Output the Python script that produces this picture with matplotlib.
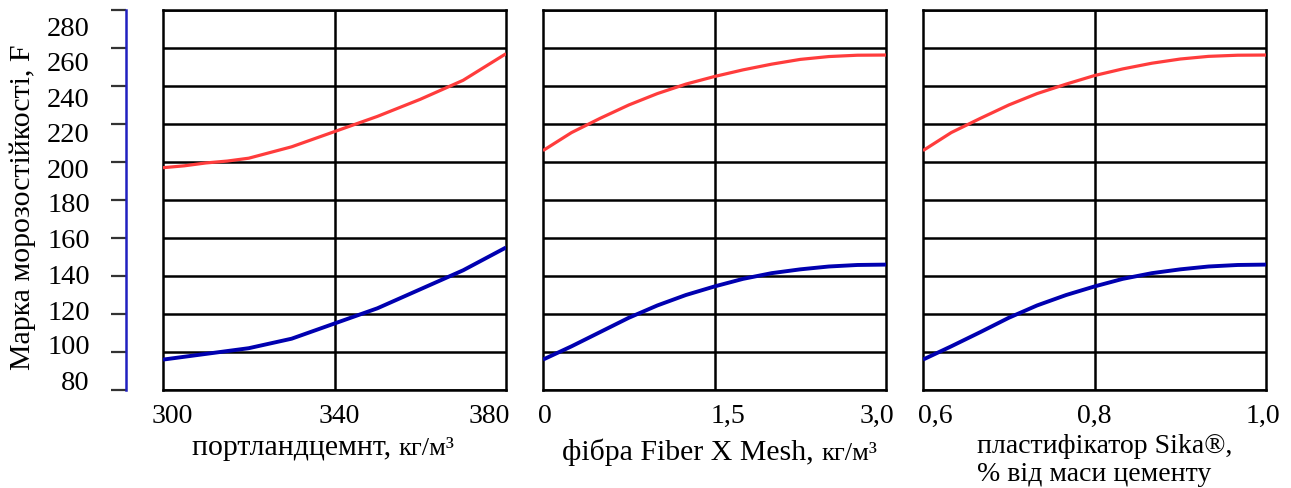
import matplotlib.pyplot as plt
from matplotlib.transforms import ScaledTranslation

plt.rcParams['font.family'] = ['Liberation Serif', 'DejaVu Serif']

# panel 1: portland cement, kg/m3
cement_x = [300, 305, 310, 315, 320, 325, 330, 335, 340,
            345, 350, 355, 360, 365, 370, 375, 380]
cement_red = [197, 198, 199.5, 200.5, 202, 205, 208, 212, 216,
              220, 224, 228.5, 233, 238, 243, 250, 257]
cement_blue = [96, 97.5, 99, 100.5, 102, 104.5, 107, 111, 115,
               119, 123, 128, 133, 138, 143, 149, 155]

# panel 2: fibre Fiber X Mesh, kg/m3
fiber_x = [0, 0.25, 0.5, 0.75, 1.0, 1.25, 1.5, 1.75, 2.0, 2.25, 2.5, 2.75, 3.0]
fiber_red = [206, 215.5, 223, 230, 236, 241, 245, 248.5, 251.5, 254, 255.5, 256.2, 256.3]
fiber_blue = [96, 103, 110.5, 118, 124.5, 130, 134.5, 138.5, 141.5, 143.5, 145, 145.8, 146]

# panel 3: plasticizer Sika, % of cement mass
sika_x = [0.6, 0.633, 0.667, 0.7, 0.733, 0.767, 0.8, 0.833, 0.867, 0.9, 0.933, 0.967, 1.0]
sika_red = [206, 215.5, 223, 230, 236, 241, 245.5, 249, 252, 254.2, 255.6, 256.2, 256.3]
sika_blue = [96, 103, 110.5, 118, 124.5, 130, 134.5, 138.5, 141.5, 143.5, 145, 145.8, 146]

y_ticks = [80, 100, 120, 140, 160, 180, 200, 220, 240, 260, 280]

panels = [
    (cement_x, cement_red, cement_blue, [300, 340, 380], ["300", "340", "380"], [9, 5, -17]),
    (fiber_x, fiber_red, fiber_blue, [0, 1.5, 3.0], ["0", "1,5", "3,0"], [2, 13, -9]),
    (sika_x, sika_red, sika_blue, [0.6, 0.8, 1.0], ["0,6", "0,8", "1,0"], [12, 0, -3]),
]
# the scale labels sit a bit off their ticks in the original (px, down +)
y_label_shift = [-10, -7, -4, -1, 0, 2, 6, 9, 12, 14, 17]

W, H = 1291, 488
fig = plt.figure(figsize=(W / 100, H / 100), dpi=100)
px = fig.dpi_scale_trans

lefts = [163, 543, 923]
axes = []
for left, (xs, red, blue, xt, xtl, shifts) in zip(lefts, panels):
    ax = fig.add_axes([left / W, (H - 390) / H, 343 / W, 380 / H])
    ax.plot(xs, red, color="#ff3c3c", lw=2.3, zorder=3, solid_capstyle="butt")
    ax.plot(xs, blue, color="#0000b0", lw=2.8, zorder=3, solid_capstyle="butt")
    ax.set_xlim(xt[0], xt[-1])
    ax.set_ylim(80, 280)
    ax.set_yticks(y_ticks)
    ax.set_yticklabels([])
    ax.set_xticks(xt)
    ax.set_xticklabels(xtl, fontsize=20)
    ax.tick_params(length=0, pad=10)
    for lab, dx in zip(ax.get_xticklabels(), shifts):
        lab.set_transform(lab.get_transform() + ScaledTranslation(dx / 100, 0, px))
    ax.grid(True, color="black", lw=1.8)
    ax.set_axisbelow(True)
    ax.xaxis.grid(False)
    ax.axvline(xt[1], color="black", lw=1.8, zorder=1)
    for s in ax.spines.values():
        s.set_linewidth(1.8)
    axes.append(ax)

# x axis titles, unit in smaller type on the same baseline
fig.canvas.draw()
rend = fig.canvas.get_renderer()
for ax, main, unit, x0, y0 in [(axes[0], "портландцемнт, ", "кг/м³", 0.085, -0.171),
                               (axes[1], "фібра Fiber X Mesh, ", "кг/м³", 0.055, -0.184)]:
    t = ax.text(x0, y0, main, transform=ax.transAxes, fontsize=21.5,
                ha="left", va="baseline")
    bb = t.get_window_extent(rend)
    xe = ax.transAxes.inverted().transform((bb.x1, bb.y0))[0]
    ax.text(xe, y0, unit, transform=ax.transAxes, fontsize=19,
            ha="left", va="baseline")
axes[2].text(0.157, -0.166, "пластифікатор Sika®,", transform=axes[2].transAxes,
             fontsize=20, ha="left", va="baseline")
axes[2].text(0.157, -0.2395, "% від маси цементу", transform=axes[2].transAxes,
             fontsize=20, ha="left", va="baseline")

# separate left scale
sc = fig.add_axes([126 / W, (H - 390) / H, 0.0001, 380 / H])
sc.set_ylim(80, 280)
sc.set_yticks(y_ticks)
sc.set_yticklabels([str(v) for v in y_ticks], fontsize=20.5)
sc.tick_params(axis="y", direction="out", length=11, width=1.6,
               color="#333333", pad=15)
for lab, dy in zip(sc.get_yticklabels(), y_label_shift):
    lab.set_transform(lab.get_transform() + ScaledTranslation(0, -dy / 100, px))
sc.set_xticks([])
for k in ("top", "right", "bottom"):
    sc.spines[k].set_visible(False)
sc.spines["left"].set_color("#2020c0")
sc.spines["left"].set_linewidth(1.8)
sc.patch.set_visible(False)

fig.text(23 / W, (H - 207) / H, "Марка морозостійкості, F", rotation=90,
         fontsize=21.5, ha="center", va="center")

fig.savefig("out.png", dpi=100)
